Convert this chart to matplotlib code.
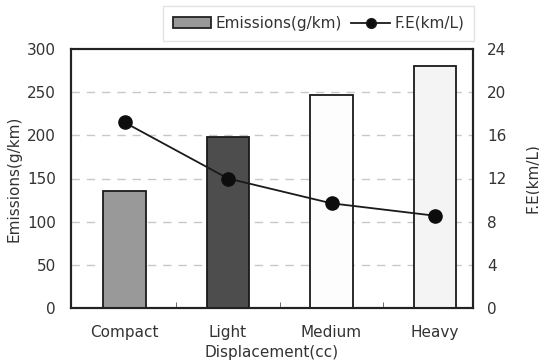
import matplotlib.pyplot as plt
from matplotlib.lines import Line2D
from matplotlib.patches import Patch

# 데이터
categories = ['Compact', 'Light', 'Medium', 'Heavy']
emissions = [135, 198, 247, 280]
fuel_economy = [17.2, 12.0, 9.7, 8.55]
bar_colors = ['#999999', '#4d4d4d', '#fdfdfd', '#f4f4f4']

plt.rcParams['font.family'] = ['DejaVu Sans']
plt.rcParams['font.size'] = 11

fig = plt.figure(figsize=(5.39, 3.62), dpi=100)
ax = fig.add_axes([71 / 539, 1 - 308 / 362, 402 / 539, 259 / 362])

x = list(range(len(categories)))
ax.bar(x, emissions, width=0.41, color=bar_colors, edgecolor='#1a1a1a', linewidth=1.3, zorder=3)

ax.set_xlim(-0.517, 3.367)
ax.set_ylim(0, 300)
ax.set_yticks([0, 50, 100, 150, 200, 250, 300])
for v in [50, 100, 150, 200, 250]:
    ax.axhline(v, color='#c8c8c8', linestyle=(0, (6, 5)), linewidth=1, zorder=1)

ax.set_xticks(x)
ax.set_xticklabels(categories, color='#333333')
ax.set_xticks([0.5, 1.5, 2.5], minor=True)
ax.tick_params(axis='x', which='major', length=0, pad=12)
ax.tick_params(axis='x', which='minor', direction='in', length=4, color='#555555')
ax.tick_params(axis='y', length=0, pad=11, labelcolor='#333333')
for s in ax.spines.values():
    s.set_linewidth(1.5)
    s.set_color('#222222')

ax.set_xlabel('Displacement(cc)', color='#333333')
ax.xaxis.set_label_coords(0.5, -0.142)
ax.set_ylabel('Emissions(g/km)', color='#333333')
ax.yaxis.set_label_coords(-0.122, 0.5)

ax2 = ax.twinx()
ax2.plot(x, fuel_economy, color='#1a1a1a', linewidth=1.3, marker='o', markersize=9.5,
         markerfacecolor='#0d0d0d', markeredgecolor='#0d0d0d', zorder=5)
ax2.set_ylim(0, 24)
ax2.set_yticks([0, 4, 8, 12, 16, 20, 24])
ax2.tick_params(axis='y', length=0, pad=10, labelcolor='#333333')
ax2.set_ylabel('F.E(km/L)', color='#333333')
ax2.yaxis.set_label_coords(1.13, 0.5)
for s in ax2.spines.values():
    s.set_linewidth(1.5)
    s.set_color('#222222')

handles = [Patch(facecolor='#999999', edgecolor='#222222', linewidth=1.3),
           Line2D([0], [0], color='#1a1a1a', linewidth=1.3, marker='o', markersize=7,
                  markerfacecolor='#0d0d0d')]
leg = fig.legend(handles, ['Emissions(g/km)', 'F.E(km/L)'], ncol=2,
                 loc='upper right', bbox_to_anchor=(474 / 539, 1 - 6 / 362),
                 borderaxespad=0, frameon=True, fancybox=False, handlelength=2.5,
                 handletextpad=0.3, columnspacing=0.6, borderpad=0.65)
leg.get_frame().set_edgecolor('#dddddd')
for t in leg.get_texts():
    t.set_color('#333333')

fig.savefig('out.png', dpi=100)
